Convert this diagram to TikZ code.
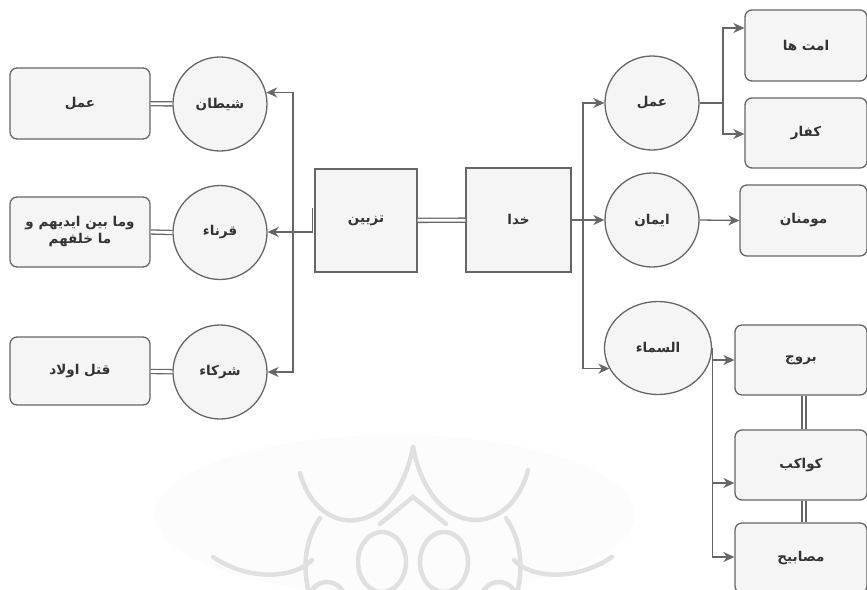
\documentclass[tikz,border=0pt]{standalone}
\usepackage{fontspec}
\usetikzlibrary{arrows.meta,calc,shapes.geometric}
\TeXXeTstate=1
\newfontfamily\arfont[Script=Arabic]{DejaVu Sans}
\definecolor{strokeg}{HTML}{666666}
\definecolor{fillg}{HTML}{F5F5F5}
\definecolor{textg}{HTML}{333333}
\definecolor{wmark}{HTML}{E0E0E0}
\definecolor{wfill}{HTML}{FCFCFC}
\newcommand{\AR}[1]{\beginR #1\endR}
\tikzset{
  base/.style={draw=strokeg, fill=fillg, line width=1.3pt, text=textg,
    font=\arfont\bfseries\fontsize{13.5}{17}\selectfont, inner sep=0pt, align=center},
  rbox/.style={base, rectangle, rounded corners=7pt},
  sbox/.style={base, rectangle},
  circ/.style={base, circle, minimum size=94pt},
  ell/.style={base, ellipse, minimum width=107pt, minimum height=93pt},
  conn/.style={draw=strokeg, line width=1.3pt},
  arr/.style={conn, -{Stealth[length=11pt,width=10pt,inset=3.5pt]}},
  link/.style={draw=strokeg, line width=1.3pt, double=white, double distance=2.8pt},
  wm/.style={draw=wmark, line width=4.5pt, line cap=round},
}
\begin{document}
\begin{tikzpicture}[x=1pt,y=-1pt]
\useasboundingbox (0,0) rectangle (867,589);
\fill[white] (0,0) rectangle (867,589);
% faint watermark
\fill[wfill] (395,515) ellipse (240 and 80);
\draw[wm] (300,473) .. controls (318,540) and (395,540) .. (413,447);
\draw[wm] (413,447) .. controls (431,540) and (510,540) .. (528,470);
\draw[wm] (320,518) .. controls (305,540) and (303,565) .. (308,589);
\draw[wm] (506,518) .. controls (521,540) and (523,565) .. (518,589);
\draw[wm] (213,557) .. controls (250,582) and (295,578) .. (312,560);
\draw[wm] (612,557) .. controls (575,582) and (530,578) .. (514,560);
\draw[wm] (382,562) ellipse (24 and 30);
\draw[wm] (444,562) ellipse (24 and 30);
\draw[wm] (380,524) -- (413,497) -- (446,524);
\draw[wm] (327,600) circle (18);
\draw[wm] (499,600) circle (18);
% left side
\node[rbox, minimum width=140pt, minimum height=71pt] (lb1) at (80,103.5) {\AR{عمل}};
\node[rbox, minimum width=140pt, minimum height=70pt] (lb2) at (80,232) {\AR{وما بین ایدیهم  و}\\\AR{ما خلفهم}};
\node[rbox, minimum width=140pt, minimum height=68pt] (lb3) at (80,371) {\AR{قتل اولاد}};
\node[circ] (c1) at (220,104) {\AR{شیطان}};
\node[circ] (c2) at (220,232.5) {\AR{قرناء}};
\node[circ] (c3) at (220,372) {\AR{شرکاء}};
% centre
\node[sbox, minimum width=102pt, minimum height=103pt] (tz) at (366,220.5) {\AR{تزیین}};
\node[sbox, minimum width=105pt, minimum height=104pt] (kh) at (518.5,220) {\AR{خدا}};
% right side
\node[circ] (r1) at (652,103) {\AR{عمل}};
\node[circ] (r2) at (652,220) {\AR{ایمان}};
\node[ell] (r3) at (658,348) {\AR{السماء}};
\node[rbox, minimum width=122pt, minimum height=71pt] (b1) at (806,45.5) {\AR{امت ها}};
\node[rbox, minimum width=122pt, minimum height=70pt] (b2) at (806,133) {\AR{کفار}};
\node[rbox, minimum width=127pt, minimum height=71pt] (b3) at (803.5,220.5) {\AR{مومنان}};
\node[rbox, minimum width=132pt, minimum height=70pt] (b4) at (801,360) {\AR{بروج}};
\node[rbox, minimum width=132pt, minimum height=70pt] (b5) at (801,465) {\AR{کواکب}};
\node[rbox, minimum width=132pt, minimum height=70pt] (b6) at (801,558) {\AR{مصابیح}};
% double links
\draw[link] (lb1) -- (c1);
\draw[link] (lb2.east) -- (c2.west);
\draw[link] (lb3) -- (c3);
\draw[link] (tz) -- (kh);
\draw[link] ($(b4.south)+(3,0)$) -- ($(b5.north)+(3,0)$);
\draw[link] ($(b5.south)+(3,0)$) -- ($(b6.north)+(3,0)$);
% tazyin to the left
\coordinate (jl) at (293,232);
\draw[conn] ($(tz.west)+(-2,-12.5)$) -- ++(0,24) -- (jl);
\draw[arr] (jl) |- (c1.14);
\draw[arr] (jl) -- (jl -| c2.east);
\draw[arr] (jl) |- (c3.east);
% khoda to the right
\coordinate (jr) at (583,220);
\draw[conn] (kh.east) -- (jr);
\draw[arr] (jr) |- (r1.west);
\draw[arr] (jr) -- (r2.west);
\draw[arr] (jr) |- (r3.203);
% amal branches
\coordinate (ja) at (723,103);
\draw[conn] (r1.east) -- (ja);
\draw[arr] (ja) |- ($(b1.west)+(0,-17.5)$);
\draw[arr] (ja) |- ($(b2.west)+(0,1)$);
% iman
\draw[arr] (r2.east) -- (b3.west);
% sama branches
\draw[arr] (r3.east) |- (b4.west);
\draw[arr] (r3.east) |- ($(b5.west)+(0,18)$);
\draw[arr] (r3.east) |- ($(b6.west)+(0,-1)$);
\end{tikzpicture}
\end{document}
